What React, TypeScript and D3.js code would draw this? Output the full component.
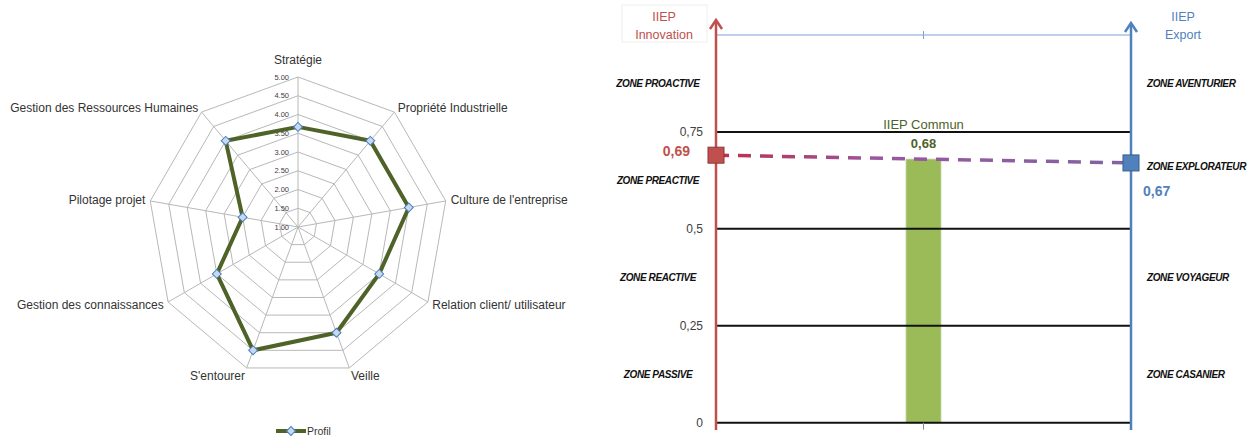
import React from "react";
import * as d3 from "d3";

// ---------- Radar data ----------
const radarAxes = [
  "Stratégie",
  "Propriété Industrielle",
  "Culture de l'entreprise",
  "Relation client/ utilisateur",
  "Veille",
  "S'entourer",
  "Gestion des connaissances",
  "Pilotage projet",
  "Gestion des Ressources Humaines",
];
const profilValues = [3.67, 4.0, 4.0, 3.5, 4.0, 4.5, 3.5, 2.5, 4.0];
const radarTicks = [1.0, 1.5, 2.0, 2.5, 3.0, 3.5, 4.0, 4.5, 5.0];
const seriesName = "Profil";

// ---------- IIEP data ----------
const iiepSeries = ["Innovation", "Commun", "Export"];
const iiepValues = [0.69, 0.68, 0.67];
const iiepThresholds = [0, 0.25, 0.5, 0.75];
const iiepTickLabels = ["0", "0,25", "0,5", "0,75"];
const zonesLeft = ["ZONE PASSIVE", "ZONE REACTIVE", "ZONE PREACTIVE", "ZONE PROACTIVE"];
const zonesRight = ["ZONE CASANIER", "ZONE VOYAGEUR", "ZONE EXPLORATEUR", "ZONE AVENTURIER"];

const FONT = "'Liberation Sans', Arial, sans-serif";

function Radar() {
  const cx = 298, cy = 227, R = 150;
  const r = d3.scaleLinear().domain([1, 5]).range([0, R]);
  const n = radarAxes.length;
  const ang = (i: number) => (i * 2 * Math.PI) / n;
  const pt = (i: number, v: number): [number, number] => [
    cx + r(v) * Math.sin(ang(i)),
    cy - r(v) * Math.cos(ang(i)),
  ];
  const ringLine = d3.line().curve(d3.curveLinearClosed);
  const diamond = d3.symbol().type(d3.symbolSquare).size(40)()!;
  const profilPath = ringLine(profilValues.map((v, i) => pt(i, v)))!;
  return (
    <g>
      {radarTicks.slice(1).map((t) => (
        <path key={t} d={ringLine(radarAxes.map((_, i) => pt(i, t)))!} fill="none" stroke="#b8b8b8" strokeWidth={1} />
      ))}
      {radarAxes.map((_, i) => {
        const [x, y] = pt(i, 5);
        return <line key={i} x1={cx} y1={cy} x2={x} y2={y} stroke="#b8b8b8" strokeWidth={1} />;
      })}
      {radarTicks.map((t) => (
        <text key={t} x={cx - 9} y={cy - r(t)} dy="0.35em" textAnchor="end" fontSize={7.5} fill="#404040" fontFamily={FONT}>
          {t.toFixed(2)}
        </text>
      ))}
      {radarAxes.map((name, i) => {
        const s = Math.sin(ang(i)), c = Math.cos(ang(i));
        const rr = R + 5;
        const x = cx + rr * s;
        let y = cy - rr * c;
        if (c > 0.9) y -= 12;
        else if (c < -0.9) y += 3;
        const anchor = s > 0.1 ? "start" : s < -0.1 ? "end" : "middle";
        return (
          <text key={name} x={x} y={y} dy="0.35em" textAnchor={anchor} fontSize={12} fill="#333" fontFamily={FONT}>
            {name}
          </text>
        );
      })}
      <path d={profilPath} fill="none" stroke="#4f6228" strokeWidth={4} strokeLinejoin="round" />
      {profilValues.map((v, i) => {
        const [x, y] = pt(i, v);
        return <path key={i} d={diamond} transform={`translate(${x},${y}) rotate(45)`} fill="#c6d9f1" stroke="#4a7ebb" strokeWidth={1} />;
      })}
      {/* legend */}
      <line x1={276} x2={306} y1={431} y2={431} stroke="#4f6228" strokeWidth={4} />
      <path d={diamond} transform="translate(291,431) rotate(45)" fill="#c6d9f1" stroke="#4a7ebb" strokeWidth={1} />
      <text x={307} y={431} dy="0.35em" fontSize={10.5} fill="#333" fontFamily={FONT}>{seriesName}</text>
    </g>
  );
}

function IIEP() {
  const y = d3.scaleLinear().domain([0, 1]).range([422.7, 35]);
  const x = d3.scaleLinear().domain([0, 2]).range([716, 1131]);
  const xL = x(0), xR = x(2), xM = x(1);
  const red = "#c0504d", blue = "#4f81bd", green = "#4f6228";
  const barW = 35;
  const zoneMid = (i: number) => (i < 3 ? (iiepThresholds[i] + iiepThresholds[i + 1]) / 2 : (iiepThresholds[3] + 1) / 2);
  const arrow = (ax: number, ay: number) => `M${ax - 6},${ay + 9}L${ax},${ay}L${ax + 6},${ay + 9}`;
  return (
    <g fontFamily={FONT}>
      <defs>
        <linearGradient id="dashGrad" gradientUnits="userSpaceOnUse" x1={xL} x2={xR} y1={0} y2={0}>
          <stop offset="0" stopColor="#be2f4f" />
          <stop offset="0.4" stopColor="#9a56a0" />
          <stop offset="1" stopColor="#8064a2" />
        </linearGradient>
      </defs>
      {/* top line */}
      <line x1={xL} x2={xR} y1={y(1)} y2={y(1)} stroke="#7ea2d4" strokeWidth={1.2} />
      <line x1={xM} x2={xM} y1={y(1) - 4} y2={y(1) + 4} stroke="#7ea2d4" strokeWidth={1} />
      {/* bar */}
      <rect x={xM - barW / 2} y={y(iiepValues[1])} width={barW} height={y(0) - y(iiepValues[1])} fill="#9bbb59" stroke="#c5d6a8" strokeWidth={0.8} />
      {/* threshold lines */}
      {iiepThresholds.map((t) => (
        <line key={t} x1={xL} x2={xR} y1={y(t)} y2={y(t)} stroke="#111" strokeWidth={2} />
      ))}
      <line x1={xM} x2={xM} y1={y(0)} y2={y(0) + 7} stroke="#888" strokeWidth={1} />
      {iiepThresholds.map((t, i) => (
        <text key={t} x={703} y={y(t)} dy="0.35em" textAnchor="end" fontSize={12} fill="#404040">{iiepTickLabels[i]}</text>
      ))}
      {/* axes */}
      <line x1={xL} x2={xL} y1={430} y2={21} stroke={red} strokeWidth={2.5} />
      <path d={arrow(xL, 20)} fill="none" stroke={red} strokeWidth={2.5} />
      <line x1={xR} x2={xR} y1={430} y2={24} stroke={blue} strokeWidth={2.5} />
      <path d={arrow(xR, 23)} fill="none" stroke={blue} strokeWidth={2.5} />
      {/* dashed line */}
      <line x1={xL} x2={xR} y1={y(iiepValues[0])} y2={y(iiepValues[2])} stroke="url(#dashGrad)" strokeWidth={3.5} strokeDasharray="13 9" />
      <rect x={xL - 8} y={y(iiepValues[0]) - 8} width={16} height={16} fill={red} stroke="#8c3836" strokeWidth={1} />
      <rect x={xR - 8} y={y(iiepValues[2]) - 8} width={16} height={16} fill={blue} stroke="#385d8a" strokeWidth={1} />
      {/* value labels */}
      <text x={690} y={y(iiepValues[0]) - 4} dy="0.35em" textAnchor="end" fontSize={14} fontWeight="bold" fill={red}>0,69</text>
      <text x={1143} y={y(iiepValues[2]) + 28} dy="0.35em" textAnchor="start" fontSize={14} fontWeight="bold" fill={blue}>0,67</text>
      <text x={xM} y={124} dy="0.35em" textAnchor="middle" fontSize={13} fill={green}>{"IIEP " + iiepSeries[1]}</text>
      <text x={xM} y={143} dy="0.35em" textAnchor="middle" fontSize={13} fontWeight="bold" fill={green}>0,68</text>
      {/* axis titles */}
      <rect x={622} y={5} width={85} height={37} fill="white" stroke="#eeeeee" strokeWidth={1} />
      <text x={664} y={17} dy="0.35em" textAnchor="middle" fontSize={12.5} fill={red}>IIEP</text>
      <text x={664} y={35} dy="0.35em" textAnchor="middle" fontSize={12.5} fill={red}>{iiepSeries[0]}</text>
      <text x={1183} y={17} dy="0.35em" textAnchor="middle" fontSize={12.5} fill={blue}>IIEP</text>
      <text x={1183} y={35} dy="0.35em" textAnchor="middle" fontSize={12.5} fill={blue}>{iiepSeries[2]}</text>
      {/* zones */}
      {zonesLeft.map((z, i) => (
        <text key={z} x={658} y={y(zoneMid(i))} dy="0.35em" textAnchor="middle" fontSize={10} fontWeight="bold" fontStyle="italic" fill="#111" letterSpacing={-0.4}>{z}</text>
      ))}
      {zonesRight.map((z, i) => (
        <text key={z} x={1147} y={i === 2 ? y(iiepValues[2]) + 4 : y(zoneMid(i))} dy="0.35em" textAnchor="start" fontSize={10} fontWeight="bold" fontStyle="italic" fill="#111" letterSpacing={-0.4}>{z}</text>
      ))}
    </g>
  );
}

export default function App() {
  return (
    <svg width={1250} height={437} style={{ position: "absolute", left: 0, top: 0, background: "white" }}>
      <Radar />
      <IIEP />
    </svg>
  );
}
